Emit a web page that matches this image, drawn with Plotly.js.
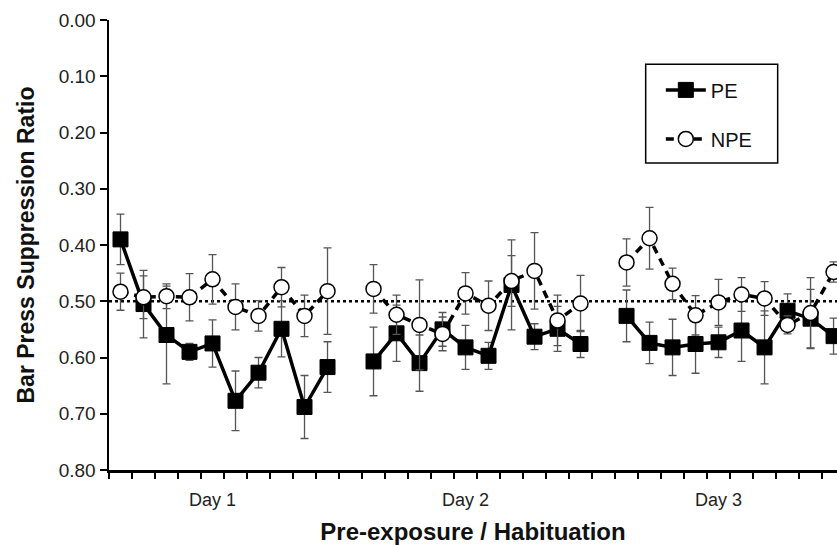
<!DOCTYPE html>
<html>
<head>
<meta charset="utf-8">
<script src="https://cdn.plot.ly/plotly-3.0.1.min.js"></script>
<style>html,body{margin:0;padding:0;background:#fff}#chart{width:837px;height:545px}</style>
</head>
<body>
<div id="chart"></div>
<script>
// Session tick labels
const dayLabels = ['Day 1', 'Day 2', 'Day 3'];
const dayCenters = [4, 15, 26];

// PE group: mean suppression ratio per trial, by day (null = gap between days)
const peDay1 = [0.390, 0.505, 0.560, 0.590, 0.575, 0.677, 0.627, 0.549, 0.688, 0.617];
const peDay2 = [0.607, 0.557, 0.610, 0.550, 0.582, 0.597, 0.471, 0.563, 0.549, 0.576];
const peDay3 = [0.526, 0.574, 0.582, 0.576, 0.573, 0.552, 0.582, 0.517, 0.531, 0.562];
const peErr1 = [0.045, 0.060, 0.087, 0.015, 0.042, 0.053, 0.027, 0.050, 0.056, 0.045];
const peErr2 = [0.061, 0.050, 0.050, 0.030, 0.039, 0.024, 0.080, 0.023, 0.040, 0.024];
const peErr3 = [0.046, 0.037, 0.050, 0.052, 0.027, 0.055, 0.065, 0.030, 0.052, 0.032];

// NPE group
const npeDay1 = [0.483, 0.493, 0.491, 0.493, 0.461, 0.510, 0.526, 0.475, 0.526, 0.482];
const npeDay2 = [0.478, 0.524, 0.542, 0.558, 0.486, 0.508, 0.464, 0.446, 0.534, 0.504];
const npeDay3 = [0.431, 0.388, 0.469, 0.525, 0.502, 0.488, 0.495, 0.542, 0.521, 0.448];
const npeErr1 = [0.033, 0.038, 0.022, 0.042, 0.044, 0.041, 0.027, 0.035, 0.037, 0.077];
const npeErr2 = [0.043, 0.035, 0.080, 0.030, 0.037, 0.044, 0.045, 0.068, 0.045, 0.050];
const npeErr3 = [0.042, 0.055, 0.028, 0.035, 0.041, 0.030, 0.030, 0.016, 0.063, 0.018];

const refLine = 0.50;

function join(a, b, c) { return a.concat([null], b, [null], c); }
const peY = join(peDay1, peDay2, peDay3);
const peE = join(peErr1, peErr2, peErr3);
const npeY = join(npeDay1, npeDay2, npeDay3);
const npeE = join(npeErr1, npeErr2, npeErr3);
const xs = peY.map((_, i) => i);

const font = 'Liberation Sans, Arial, sans-serif';
const errStyle = {type: 'data', visible: true, color: '#555', thickness: 1.3, width: 4};

const traces = [
  {
    name: 'PE', x: xs, y: peY, type: 'scatter', mode: 'lines+markers', connectgaps: false,
    line: {color: '#000', width: 3.5},
    marker: {symbol: 'square', size: 15, color: '#000', line: {color: '#000', width: 1}},
    error_y: Object.assign({array: peE}, errStyle),
    legendgroup: 'a'
  },
  {
    name: 'NPE', x: xs, y: npeY, type: 'scatter', mode: 'lines+markers', connectgaps: false,
    line: {color: '#000', width: 3.5, dash: '8px,6px'},
    marker: {symbol: 'circle', size: 15, color: '#fff', line: {color: '#000', width: 1.5}},
    error_y: Object.assign({array: npeE}, errStyle),
    legendgroup: 'b'
  }
];

const layout = {
  width: 837, height: 545,
  margin: {l: 109, r: 0, t: 20, b: 75},
  paper_bgcolor: '#fff', plot_bgcolor: '#fff',
  font: {family: font, color: '#222', size: 19},
  showlegend: true,
  legend: {
    x: 0.758, y: 0.888, xanchor: 'left', yanchor: 'top',
    borderwidth: 0, bgcolor: 'rgba(0,0,0,0)',
    font: {family: font, size: 20, color: '#111'},
    tracegroupgap: 20, traceorder: 'grouped', itemwidth: 40
  },
  xaxis: {
    range: [-0.5, 31.15], showgrid: false, zeroline: false, automargin: false,
    showline: true, linecolor: '#000', linewidth: 2.5,
    tickmode: 'array', tickvals: dayCenters, ticktext: dayLabels,
    ticks: '', ticklabelstandoff: 12,
    tickfont: {family: font, size: 18, color: '#222'},
    minor: {tickmode: 'linear', tick0: -0.5, dtick: 1, ticks: 'outside', ticklen: 6, tickwidth: 2, tickcolor: '#000', showgrid: false},
    title: {text: '<b>Pre-exposure / Habituation</b>', font: {family: font, size: 24, color: '#111'}, standoff: 14}
  },
  yaxis: {
    range: [0.8, 0], showgrid: false, zeroline: false, automargin: true,
    showline: true, linecolor: '#000', linewidth: 2.5,
    tickmode: 'linear', tick0: 0, dtick: 0.1, tickformat: '.2f',
    ticks: 'outside', ticklen: 7, tickwidth: 2, tickcolor: '#000',
    tickfont: {family: font, size: 19, color: '#222'},
    title: {text: '<b>Bar Press Suppression Ratio</b>', font: {family: font, size: 23, color: '#111'}, standoff: 18}
  },
  shapes: [
    {type: 'line', xref: 'paper', x0: 0, x1: 1, yref: 'y', y0: refLine, y1: refLine,
     line: {color: '#000', width: 2.5, dash: 'dot'}, layer: 'below'},
    {type: 'rect', xref: 'paper', yref: 'paper', x0: 0.7372, x1: 0.9185, y0: 0.682, y1: 0.9016,
     line: {color: '#000', width: 1.5}, fillcolor: 'rgba(0,0,0,0)', layer: 'above'}
  ]
};

Plotly.newPlot('chart', traces, layout, {displayModeBar: false, staticPlot: true});
</script>
</body>
</html>
